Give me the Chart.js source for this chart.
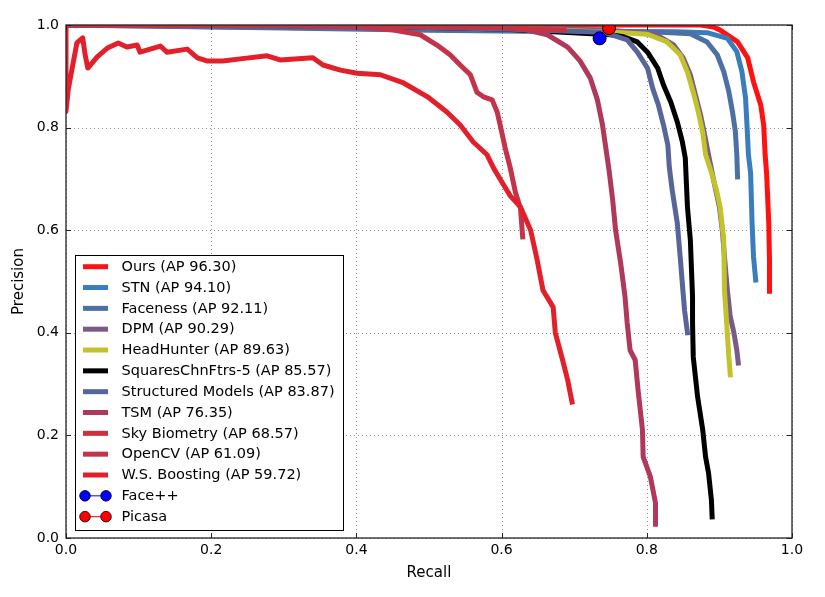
<!DOCTYPE html>
<html><head><meta charset="utf-8">
<script src="https://cdn.jsdelivr.net/npm/chart.js@4.4.1/dist/chart.umd.min.js"></script>
<style>html,body{margin:0;padding:0;background:#fff;}#wrap{width:825px;height:597px;}</style>
</head><body><div id="wrap"><canvas id="c" width="825" height="597"></canvas></div>
<script>
const tickValues = [0, 0.2, 0.4, 0.6, 0.8, 1.0];

const seriesNames = ['Ours (AP 96.30)','STN (AP 94.10)','Faceness (AP 92.11)','DPM (AP 90.29)','HeadHunter (AP 89.63)','SquaresChnFtrs-5 (AP 85.57)','Structured Models (AP 83.87)','TSM (AP 76.35)','Sky Biometry (AP 68.57)','OpenCV (AP 61.09)','W.S. Boosting (AP 59.72)','Face++','Picasa'];
const seriesColors = ['#ff1111','#3a7dbd','#4a70a6','#785b88','#c2c22c','#000000','#57659b','#b0385a','#c8323f','#c3344a','#e2202b','#0000ff','#ff0000'];

const oursRecall    = [0,0.874,0.892,0.901,0.925,0.939,0.947,0.957,0.961,0.963,0.965,0.968,0.969,0.969];
const oursPrecision = [1.0,1.0,0.996,0.990,0.967,0.936,0.889,0.844,0.805,0.747,0.711,0.614,0.542,0.481];

const stnRecall    = [0,0.3,0.5,0.7,0.84,0.883,0.911,0.924,0.931,0.936,0.938,0.940,0.943,0.945,0.947,0.950];
const stnPrecision = [1.0,0.995,0.991,0.988,0.987,0.985,0.974,0.948,0.909,0.858,0.805,0.747,0.711,0.614,0.548,0.503];

const facenessRecall    = [0,0.3,0.5,0.7,0.82,0.860,0.883,0.897,0.906,0.913,0.918,0.922,0.924,0.925];
const facenessPrecision = [1.0,0.994,0.990,0.987,0.986,0.983,0.967,0.942,0.909,0.870,0.831,0.792,0.747,0.704];

const dpmRecall    = [0,0.4,0.6,0.75,0.813,0.837,0.850,0.860,0.867,0.874,0.879,0.885,0.892,0.900,0.904,0.907,0.911,0.915,0.920,0.924,0.926];
const dpmPrecision = [1.0,0.998,0.995,0.990,0.981,0.961,0.936,0.903,0.864,0.825,0.791,0.747,0.698,0.645,0.600,0.548,0.483,0.431,0.400,0.366,0.341];

const headHunterRecall    = [0,0.4,0.6,0.754,0.801,0.828,0.846,0.856,0.864,0.871,0.877,0.881,0.888,0.896,0.901,0.906,0.907,0.910,0.913,0.915];
const headHunterPrecision = [1.0,0.998,0.994,0.986,0.982,0.967,0.942,0.908,0.869,0.830,0.791,0.747,0.717,0.678,0.645,0.581,0.483,0.419,0.353,0.318];

const squaresRecall    = [0,0.4,0.6,0.750,0.768,0.787,0.801,0.815,0.823,0.833,0.842,0.849,0.853,0.856,0.860,0.863,0.863,0.864,0.870,0.877,0.881,0.885,0.889,0.890];
const squaresPrecision = [1.0,0.998,0.992,0.981,0.977,0.967,0.947,0.916,0.883,0.850,0.811,0.772,0.741,0.645,0.581,0.470,0.419,0.353,0.275,0.211,0.158,0.127,0.074,0.041];

const structuredRecall    = [0,0.4,0.6,0.74,0.773,0.787,0.801,0.808,0.816,0.823,0.829,0.831,0.835,0.842,0.846,0.850,0.852,0.856];
const structuredPrecision = [1.0,0.998,0.992,0.986,0.971,0.947,0.916,0.877,0.844,0.805,0.766,0.723,0.678,0.614,0.548,0.478,0.444,0.400];

const tsmRecall    = [0,0.3,0.55,0.6,0.635,0.663,0.691,0.708,0.722,0.732,0.739,0.744,0.748,0.753,0.757,0.764,0.770,0.773,0.777,0.784,0.788,0.794,0.795,0.805,0.812,0.812];
const tsmPrecision = [1.0,0.999,0.997,0.995,0.990,0.981,0.957,0.930,0.897,0.854,0.805,0.756,0.717,0.659,0.600,0.536,0.470,0.419,0.366,0.347,0.288,0.211,0.158,0.119,0.068,0.027];

const skyRecall    = [0,0.3,0.6,0.686];
const skyPrecision = [1.0,0.999,0.995,0.990];

const opencvRecall    = [0,0.3,0.405,0.451,0.488,0.511,0.529,0.543,0.557,0.566,0.575,0.587,0.594,0.598,0.605,0.612,0.619,0.626,0.629];
const opencvPrecision = [1.0,0.999,0.996,0.990,0.981,0.961,0.942,0.922,0.903,0.869,0.860,0.854,0.830,0.805,0.760,0.721,0.674,0.643,0.587];

const wsRecall    = [0,0,0.003,0.008,0.015,0.023,0.026,0.030,0.043,0.057,0.072,0.084,0.098,0.102,0.130,0.139,0.167,0.181,0.194,0.216,0.240,0.277,0.295,0.340,0.354,0.378,0.401,0.433,0.465,0.498,0.525,0.543,0.561,0.580,0.589,0.602,0.612,0.626,0.640,0.649,0.657,0.671,0.674,0.684,0.691,0.697];
const wsPrecision = [1.0,0.832,0.873,0.912,0.965,0.975,0.945,0.916,0.938,0.955,0.965,0.957,0.961,0.947,0.959,0.947,0.953,0.936,0.930,0.930,0.934,0.940,0.932,0.936,0.922,0.912,0.906,0.903,0.887,0.860,0.830,0.805,0.772,0.747,0.721,0.690,0.667,0.645,0.600,0.542,0.483,0.450,0.400,0.347,0.308,0.265];

const facePPRecall = [0.735], facePPPrecision = [0.974];
const picasaRecall = [0.748], picasaPrecision = [0.994];

const curves = [
  [oursRecall, oursPrecision],[stnRecall, stnPrecision],[facenessRecall, facenessPrecision],
  [dpmRecall, dpmPrecision],[headHunterRecall, headHunterPrecision],[squaresRecall, squaresPrecision],
  [structuredRecall, structuredPrecision],[tsmRecall, tsmPrecision],[skyRecall, skyPrecision],
  [opencvRecall, opencvPrecision],[wsRecall, wsPrecision],[facePPRecall, facePPPrecision],[picasaRecall, picasaPrecision]
];
const markerSeries = [11, 12];

const FONT = 'DejaVu Sans';
const datasets = curves.map((c, i) => {
  const isMarker = markerSeries.includes(i);
  return {
    label: seriesNames[i],
    data: c[0].map((x, j) => ({x: x, y: c[1][j]})),
    showLine: !isMarker,
    borderColor: isMarker ? '#000' : seriesColors[i],
    backgroundColor: seriesColors[i],
    borderWidth: isMarker ? 1 : 5,
    pointRadius: isMarker ? 6.5 : 0,
    pointHoverRadius: isMarker ? 6.5 : 0,
    pointBackgroundColor: seriesColors[i],
    pointBorderColor: '#000',
    pointBorderWidth: 1,
    borderCapStyle: 'square',
    borderJoinStyle: 'round',
    tension: 0,
    fill: false,
    order: -i,
    isMarker: isMarker
  };
});

const decorPlugin = {
  id: 'decor',
  beforeDatasetsDraw(chart) {
    const {ctx, chartArea: a, scales: {x, y}} = chart;
    ctx.save();
    ctx.strokeStyle = '#8c8c8c';
    ctx.lineWidth = 1;
    ctx.setLineDash([1, 3]);
    tickValues.forEach(v => {
      const px = Math.round(x.getPixelForValue(v)) + 0.5;
      ctx.beginPath(); ctx.moveTo(px, a.top); ctx.lineTo(px, a.bottom); ctx.stroke();
      const py = Math.round(y.getPixelForValue(v)) + 0.5;
      ctx.beginPath(); ctx.moveTo(a.left, py); ctx.lineTo(a.right, py); ctx.stroke();
    });
    ctx.restore();
  },
  afterDatasetsDraw(chart) {
    const {ctx, chartArea: a, scales: {x, y}} = chart;
    ctx.save();
    // frame
    ctx.strokeStyle = '#222';
    ctx.lineWidth = 1.3;
    ctx.strokeRect(a.left, a.top, a.right - a.left, a.bottom - a.top);
    // inward ticks
    ctx.lineWidth = 1;
    ctx.strokeStyle = '#222';
    const TL = 5;
    tickValues.forEach(v => {
      const px = Math.round(x.getPixelForValue(v)) + 0.5;
      ctx.beginPath(); ctx.moveTo(px, a.bottom); ctx.lineTo(px, a.bottom - TL);
      ctx.moveTo(px, a.top); ctx.lineTo(px, a.top + TL); ctx.stroke();
      const py = Math.round(y.getPixelForValue(v)) + 0.5;
      ctx.beginPath(); ctx.moveTo(a.left, py); ctx.lineTo(a.left + TL, py);
      ctx.moveTo(a.right, py); ctx.lineTo(a.right - TL, py); ctx.stroke();
    });
    // legend
    const L = {left: 75.5, top: 255.5, right: 343.5, bottom: 530.5, row0: 266.7, rowH: 20.83, x0: 83, x1: 108, tx: 121.5};
    ctx.fillStyle = '#fff';
    ctx.fillRect(L.left, L.top, L.right - L.left, L.bottom - L.top);
    ctx.strokeStyle = '#000';
    ctx.lineWidth = 1;
    ctx.strokeRect(L.left, L.top, L.right - L.left, L.bottom - L.top);
    ctx.font = '14.5px "' + FONT + '"';
    ctx.textBaseline = 'middle';
    ctx.textAlign = 'left';
    chart.data.datasets.forEach((ds, i) => {
      const cy = L.row0 + i * L.rowH;
      if (ds.isMarker) {
        ctx.strokeStyle = ds.backgroundColor;
        ctx.lineWidth = 1;
        ctx.beginPath(); ctx.moveTo(L.x0 + 2, cy); ctx.lineTo(L.x1 - 2, cy); ctx.stroke();
        [L.x0 + 2, L.x1 - 2].forEach(mx => {
          ctx.beginPath(); ctx.arc(mx, cy, 5.3, 0, Math.PI * 2);
          ctx.fillStyle = ds.backgroundColor; ctx.fill();
          ctx.strokeStyle = '#000'; ctx.lineWidth = 0.8; ctx.stroke();
        });
      } else {
        ctx.strokeStyle = ds.borderColor;
        ctx.lineWidth = 5;
        ctx.lineCap = 'butt';
        ctx.beginPath(); ctx.moveTo(L.x0, cy); ctx.lineTo(L.x1, cy); ctx.stroke();
      }
      ctx.fillStyle = '#000';
      ctx.fillText(ds.label, L.tx, cy + 0.5);
    });
    ctx.restore();
  }
};

new Chart(document.getElementById('c'), {
  type: 'scatter',
  data: {datasets: datasets},
  plugins: [decorPlugin],
  options: {
    responsive: false,
    devicePixelRatio: 1,
    animation: false,
    layout: {padding: {top: 25, right: 33, bottom: 0, left: 0}},
    plugins: {legend: {display: false}, tooltip: {enabled: false}},
    scales: {
      x: {
        type: 'linear', min: 0, max: 1,
        afterFit(s) { s.height = 59; },
        afterBuildTicks(s) { s.ticks = tickValues.map(v => ({value: v})); },
        ticks: {callback: v => Number(v).toFixed(1), padding: 4, color: '#000', font: {family: FONT, size: 14}, maxRotation: 0, autoSkip: false},
        grid: {display: false, drawTicks: false},
        border: {display: false},
        title: {display: true, text: 'Recall', color: '#000', font: {family: FONT, size: 15}, padding: {top: 0, bottom: 15}}
      },
      y: {
        type: 'linear', min: 0, max: 1,
        afterFit(s) { s.width = 66; },
        afterBuildTicks(s) { s.ticks = tickValues.map(v => ({value: v})); },
        ticks: {callback: v => Number(v).toFixed(1), padding: 7, color: '#000', font: {family: FONT, size: 14}, autoSkip: false},
        grid: {display: false, drawTicks: false},
        border: {display: false},
        title: {display: true, text: 'Precision', color: '#000', font: {family: FONT, size: 15}, padding: {top: 10, bottom: 0}}
      }
    }
  }
});
</script></body></html>
